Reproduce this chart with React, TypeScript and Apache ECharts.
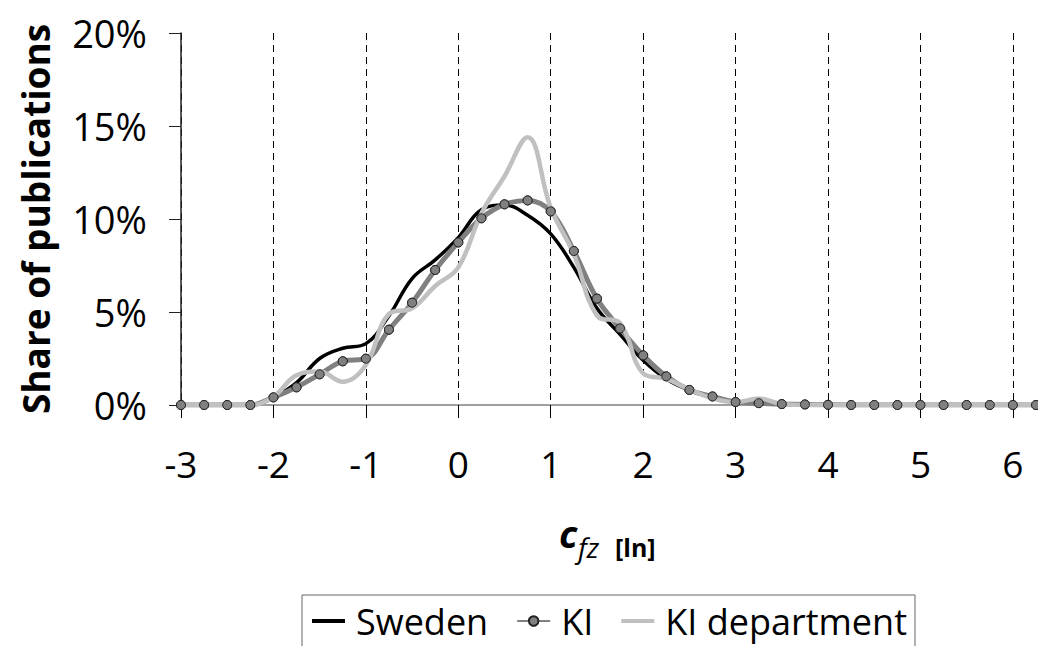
import React, { useEffect, useRef } from "react";
import * as echarts from "echarts";

const xCategories = [
  "-3", "-2.75", "-2.5", "-2.25", "-2", "-1.75", "-1.5", "-1.25", "-1", "-0.75",
  "-0.5", "-0.25", "0", "0.25", "0.5", "0.75", "1", "1.25", "1.5", "1.75",
  "2", "2.25", "2.5", "2.75", "3", "3.25", "3.5", "3.75", "4", "4.25",
  "4.5", "4.75", "5", "5.25", "5.5", "5.75", "6", "6.25",
];

const sweden = [
  0, 0, 0, 0.02, 0.4, 1.2, 2.5, 3.05, 3.3, 4.8,
  6.8, 7.8, 9.0, 10.5, 10.75, 10.2, 9.2, 7.4, 5.2, 3.8,
  2.4, 1.4, 0.8, 0.4, 0.18, 0.08, 0.04, 0.02, 0.01, 0,
  0, 0, 0, 0, 0, 0, 0, 0,
];

const ki = [
  0, 0, 0, 0, 0.41, 0.95, 1.65, 2.35, 2.49, 4.05,
  5.5, 7.26, 8.74, 10.04, 10.79, 11.0, 10.41, 8.28, 5.72, 4.12,
  2.67, 1.54, 0.81, 0.46, 0.16, 0.1, 0.05, 0.03, 0.01, 0,
  0, 0, 0, 0, 0, 0, 0, 0,
];

const kiDepartment = [
  0, 0, 0, 0, 0.45, 1.6, 1.8, 1.25, 2.15, 4.9,
  5.2, 6.4, 7.4, 10.3, 12.3, 14.4, 10.6, 8.1, 4.8, 4.4,
  1.7, 1.4, 0.84, 0.36, 0.15, 0.35, 0.05, 0, 0, 0,
  0, 0, 0, 0, 0, 0, 0, 0,
];

const yTicks = [0, 5, 10, 15, 20];

const FONT = "'Open Sans', 'Noto Sans', sans-serif";
const LINE_ICON = "path://M0,0H33V4H0Z";

export default function App() {
  const ref = useRef<HTMLDivElement>(null);

  useEffect(() => {
    if (!ref.current) return;
    const chart = echarts.init(ref.current, undefined, { renderer: "svg" });
    const smooth = 0.4;
    chart.setOption({
      animation: false,
      backgroundColor: "#ffffff",
      textStyle: { fontFamily: FONT },
      grid: { left: 181, right: 2, top: 33, bottom: 241, containLabel: false },
      xAxis: {
        type: "category",
        data: xCategories,
        boundaryGap: false,
        axisLine: { lineStyle: { color: "#7f7f7f", width: 1.5 } },
        axisTick: { show: true, interval: 3, length: 13, lineStyle: { color: "#000", width: 1 } },
        axisLabel: {
          interval: 3,
          margin: 40,
          fontSize: 37,
          color: "#000",
          fontFamily: FONT,
        },
        splitLine: {
          show: true,
          interval: 3,
          lineStyle: { color: "#000", type: [7, 5], width: 1 },
        },
      },
      yAxis: {
        type: "value",
        min: yTicks[0],
        max: yTicks[yTicks.length - 1],
        interval: 5,
        name: "Share of publications",
        nameLocation: "middle",
        nameRotate: 90,
        nameGap: 127,
        nameTextStyle: { fontSize: 37, fontWeight: "bold", color: "#000", fontFamily: FONT },
        axisLine: { show: true, lineStyle: { color: "#222", width: 1.5 } },
        axisTick: { show: true, length: 12, lineStyle: { color: "#222", width: 1 } },
        axisLabel: {
          formatter: (v: number) => `${v}%`,
          margin: 34,
          fontSize: 38,
          color: "#000",
          fontFamily: FONT,
        },
        splitLine: { show: false },
      },
      legend: {
        left: 302,
        top: 595,
        padding: [8, 8, 20, 10],
        borderColor: "#666",
        borderWidth: 1,
        itemGap: 28,
        itemWidth: 33,
        itemHeight: 12,
        textStyle: { fontSize: 36, color: "#000", fontFamily: FONT, padding: [0, 0, 0, 6] },
        data: [
          { name: "Sweden", icon: LINE_ICON },
          { name: "KI" },
          { name: "KI department", icon: LINE_ICON },
        ],
      },
      graphic: [
        {
          type: "text",
          left: 559,
          top: 514,
          style: { text: "c", font: `italic bold 38px ${FONT}`, fill: "#000" },
        },
        {
          type: "text",
          left: 578,
          top: 533,
          style: { text: "fz", font: `italic 28px ${FONT}`, fill: "#000" },
        },
        {
          type: "text",
          left: 615,
          top: 534,
          style: { text: "[ln]", font: `bold 25px ${FONT}`, fill: "#000" },
        },
      ],
      series: [
        {
          name: "Sweden",
          type: "line",
          data: sweden,
          smooth,
          symbol: "none",
          lineStyle: { color: "#000", width: 3.5 },
          itemStyle: { color: "#000" },
          z: 2,
        },
        {
          name: "KI",
          type: "line",
          data: ki,
          smooth,
          symbol: "circle",
          symbolSize: 9,
          lineStyle: { color: "#808080", width: 5 },
          itemStyle: { color: "#808080", borderColor: "#222", borderWidth: 1 },
          z: 3,
        },
        {
          name: "KI department",
          type: "line",
          data: kiDepartment,
          smooth,
          symbol: "none",
          lineStyle: { color: "#c0c0c0", width: 4.5 },
          itemStyle: { color: "#c0c0c0" },
          z: 4,
        },
        {
          name: "KI markers",
          type: "line",
          data: ki,
          smooth,
          symbol: "circle",
          symbolSize: 9,
          lineStyle: { opacity: 0, width: 0 },
          itemStyle: { color: "#808080", borderColor: "#222", borderWidth: 1 },
          z: 5,
          silent: true,
        },
      ],
    });
    return () => chart.dispose();
  }, []);

  return <div ref={ref} style={{ width: 1038, height: 646, position: "absolute", left: 0, top: 0 }} />;
}
